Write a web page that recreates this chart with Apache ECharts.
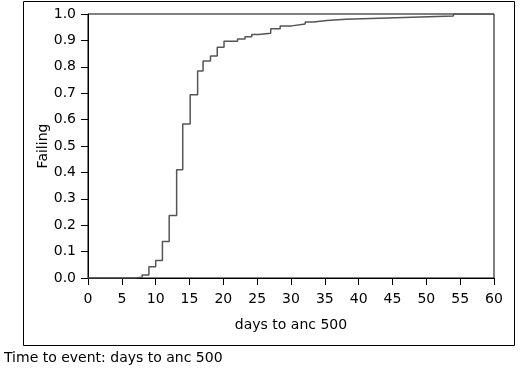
<!DOCTYPE html>
<html><head><meta charset="utf-8">
<script src="https://cdn.jsdelivr.net/npm/echarts@6/dist/echarts.min.js"></script>
<style>html,body{margin:0;padding:0;background:#fff}#c{width:520px;height:372px}</style>
</head><body><div id="c"></div>
<script>
// Step-function points: day at which the step occurs, fraction failing after it
const days = [0, 6.9, 8.0, 9.0, 10.0, 11.0, 12.0, 13.1, 14.0, 15.1, 16.2, 17.0, 18.1, 19.1, 20.1, 22.1, 23.2, 24.2, 25.2, 27.0, 28.4, 30.1, 32.1, 33.3, 35.3, 38.1, 46.7, 54.0, 60.0];
const failing = [0, 0.003, 0.011, 0.043, 0.066, 0.138, 0.237, 0.41, 0.583, 0.694, 0.784, 0.822, 0.841, 0.874, 0.897, 0.905, 0.914, 0.922, 0.927, 0.944, 0.955, 0.962, 0.970, 0.975, 0.980, 0.987, 0.992, 1.0, 1.0];
const xTicks = [0, 60, 5];
const yTicks = [0, 1, 0.1];
const xName = 'days to anc 500';
const yName = 'Failing';
const caption = 'Time to event: days to anc 500';

const chart = echarts.init(document.getElementById('c'), null, {renderer: 'canvas'});
const font = '"DejaVu Sans", Verdana, sans-serif';
const fs = 14;
chart.setOption({
  animation: false,
  backgroundColor: '#fff',
  grid: {left: 88, right: 26, top: 14, bottom: 94, show: true, borderColor: '#000', borderWidth: 1},
  graphic: [
    {type: 'rect', shape: {x: 23.5, y: 1.5, width: 491, height: 344}, style: {fill: 'none', stroke: '#000', lineWidth: 1}, silent: true},
    {type: 'text', left: 4, top: 351, style: {text: caption, font: fs + 'px ' + font, fill: '#000'}}
  ],
  xAxis: {
    type: 'value', min: xTicks[0], max: xTicks[1], interval: xTicks[2],
    name: xName, nameLocation: 'middle', nameGap: 40,
    nameTextStyle: {color: '#000', fontSize: fs, fontFamily: font},
    axisLine: {lineStyle: {color: '#000', width: 1}},
    axisTick: {length: 7, lineStyle: {color: '#000'}},
    axisLabel: {color: '#000', fontSize: fs, fontFamily: font, margin: 14},
    splitLine: {show: false}
  },
  yAxis: {
    type: 'value', min: yTicks[0], max: yTicks[1], interval: yTicks[2],
    name: yName, nameLocation: 'middle', nameGap: 38, nameRotate: 90, nameMoveOverlap: false,
    nameTextStyle: {color: '#000', fontSize: fs, fontFamily: font},
    axisLine: {show: true, lineStyle: {color: '#000', width: 1}},
    axisTick: {show: true, length: 7, lineStyle: {color: '#000'}},
    axisLabel: {color: '#000', fontSize: fs, fontFamily: font, margin: 12, formatter: v => v.toFixed(1)},
    splitLine: {show: false}
  },
  series: [{
    type: 'line', step: 'end', showSymbol: false,
    data: days.map((d, i) => [d, failing[i]]),
    lineStyle: {color: '#555', width: 1.5}
  }]
});
</script></body></html>
